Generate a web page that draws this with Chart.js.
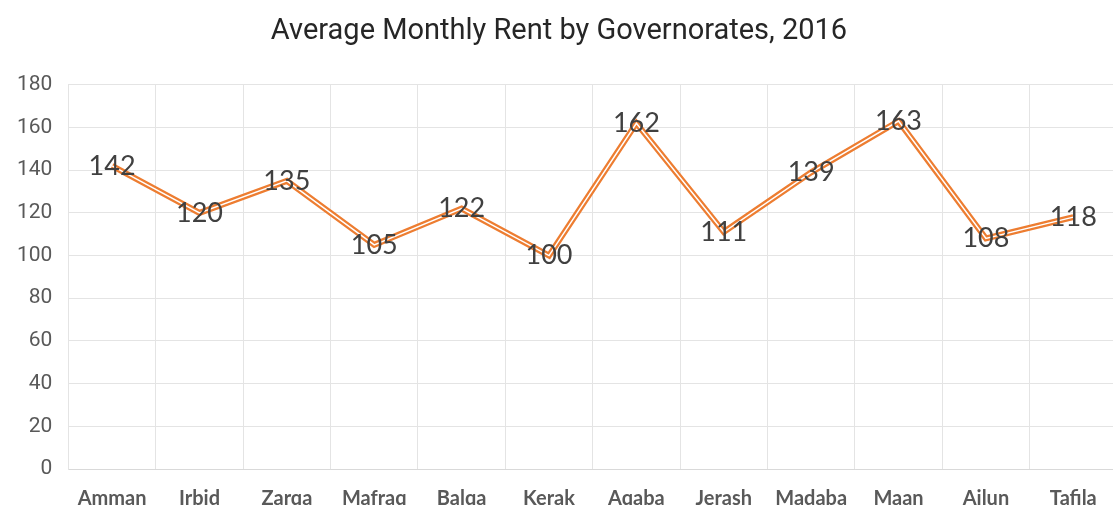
<!DOCTYPE html>
<html>
<head>
<meta charset="utf-8">
<title>Average Monthly Rent by Governorates, 2016</title>
<script src="https://cdn.jsdelivr.net/npm/chart.js@4/dist/chart.umd.min.js"></script>
<style>
    html, body { margin: 0; padding: 0; background: #fff; overflow: hidden; }
    #wrap { position: absolute; left: 0; top: 0; width: 1120px; height: 529px; }
</style>
</head>
<body>
<div id="wrap"><canvas id="rent-chart" width="1120" height="529"></canvas></div>
<script>
    // Chart data
    const governorates = ['Amman', 'Irbid', 'Zarqa', 'Mafraq', 'Balqa', 'Kerak',
        'Aqaba', 'Jerash', 'Madaba', 'Maan', 'Ajlun', 'Tafila'];
    const avgRent = [142, 120, 135, 105, 122, 100, 162, 111, 139, 163, 108, 118];
    const yTicks = [0, 20, 40, 60, 80, 100, 120, 140, 160, 180];

    // Draws value labels centred on each point
    const valueLabels = {
        id: 'valueLabels',
        afterDatasetsDraw: function(chart) {
            const ctx = chart.ctx;
            const meta = chart.getDatasetMeta(0);
            ctx.save();
            ctx.font = '27px Lato';
            ctx.fillStyle = '#404040';
            ctx.textAlign = 'center';
            ctx.textBaseline = 'middle';
            meta.data.forEach(function(pt, i) {
                ctx.fillText(String(avgRent[i]), pt.x, pt.y);
            });
            ctx.restore();
        }
    };

    const canvas = document.getElementById('rent-chart');

    new Chart(canvas, {
        type: 'line',
        data: {
            labels: governorates,
            datasets: [{
                data: avgRent,
                borderColor: '#ED7D31',
                borderWidth: 6,
                pointRadius: 0,
                tension: 0,
                order: 2
            }, {
                data: avgRent,
                borderColor: '#ffffff',
                borderWidth: 1.5,
                pointRadius: 0,
                tension: 0,
                order: 1
            }]
        },
        options: {
            responsive: false,
            animation: false,
            layout: {
                padding: { left: 1, right: 3, top: 0, bottom: 0 }
            },
            plugins: {
                legend: { display: false },
                tooltip: { enabled: false },
                title: {
                    display: true,
                    text: 'Average Monthly Rent by Governorates, 2016',
                    color: '#262626',
                    font: { family: 'Roboto', size: 29, weight: 'normal' },
                    padding: { top: 14, bottom: 36 }
                }
            },
            scales: {
                x: {
                    offset: true,
                    grid: {
                        offset: true,
                        color: '#e4e4e4',
                        drawTicks: false
                    },
                    border: { color: '#d9d9d9' },
                    ticks: {
                        color: '#595959',
                        padding: 18,
                        maxRotation: 0,
                        autoSkip: false,
                        font: { family: 'Lato', size: 20, weight: 'bold' }
                    }
                },
                y: {
                    min: 0,
                    max: 180,
                    afterBuildTicks: function(axis) {
                        axis.ticks = yTicks.map(v => ({ value: v }));
                    },
                    grid: {
                        color: '#e4e4e4',
                        drawTicks: false
                    },
                    border: { color: '#e4e4e4' },
                    ticks: {
                        color: '#595959',
                        padding: 16,
                        font: { family: 'Roboto', size: 21 }
                    }
                }
            }
        },
        plugins: [valueLabels]
    });
</script>
</body>
</html>
